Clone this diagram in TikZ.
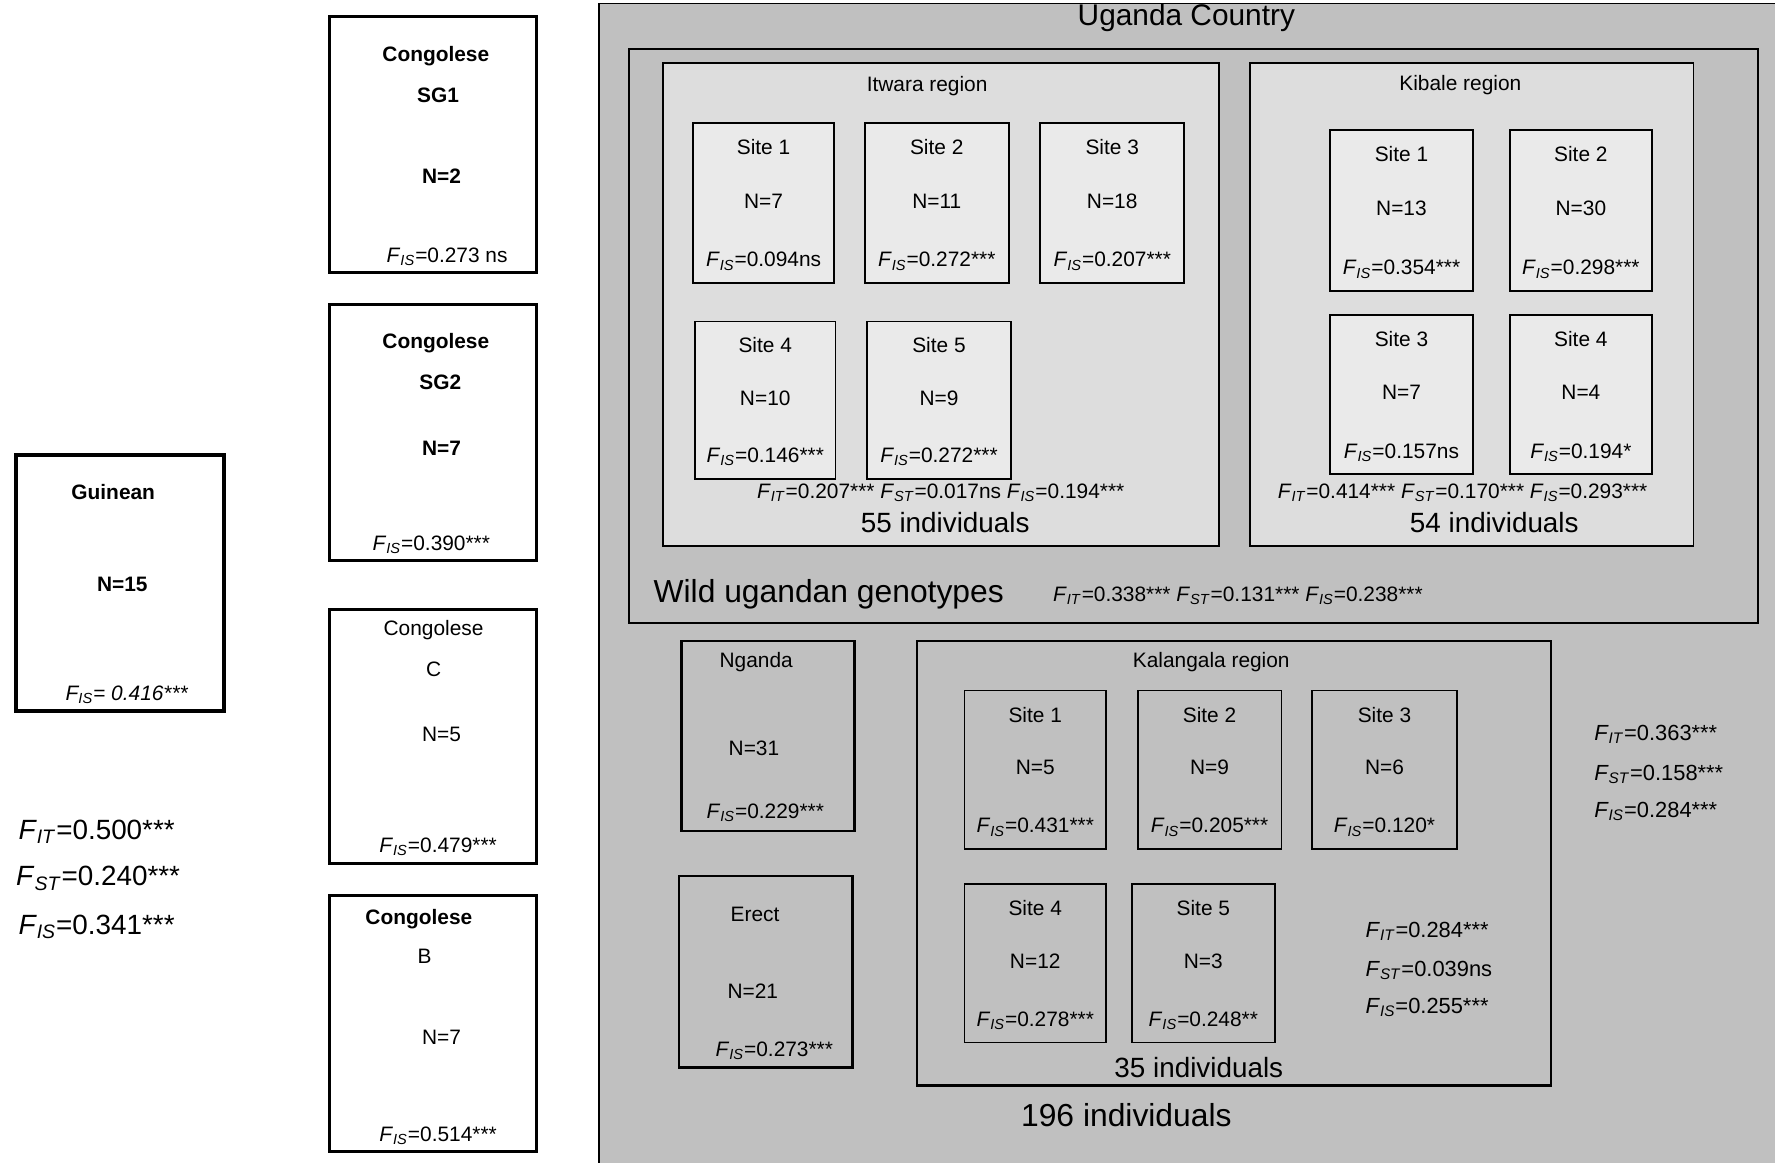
\documentclass[tikz,border=0pt]{standalone}
\usepackage{fontspec}
\setmainfont{Liberation Sans}
\usetikzlibrary{positioning,calc,fit}
\definecolor{ugray}{RGB}{192,192,192}
\definecolor{rgray}{RGB}{221,221,221}
\definecolor{sgray}{RGB}{234,234,234}
\newcommand{\fstat}[1]{\textit{F}\textsubscript{\textit{#1}}}

\begin{document}
\begin{tikzpicture}[x=0.02cm,y=-0.02cm,
  box/.style={draw,inner sep=0pt,line width=0.7pt},
  grp/.style={box,fill=ugray},
  reg/.style={box,line width=0.9pt,fill=rgray},
  site/.style={box,line width=0.9pt},
  pop/.style={box,line width=1.5pt,fill=white},
  txt/.style={inner sep=0pt,font=\fontsize{10.5}{12}\selectfont},
  ptxt/.style={inner sep=0pt,font=\bfseries\fontsize{10.5}{12}\selectfont},
  big/.style={inner sep=0pt,font=\fontsize{15}{18}\selectfont},
  lstat/.style={inner sep=0pt,anchor=west,font=\fontsize{14}{16}\selectfont},
  rstat/.style={inner sep=0pt,anchor=west,font=\fontsize{11}{13}\selectfont}]
\useasboundingbox[fill=white] (0,0) rectangle (1568,1027);

% left: Guinean and Congolese groups
\node[pop,line width=2pt,fit={(14,402) (198,628)}] (gui) {};
\node[ptxt] (gui-a) at (100,435) {Guinean};
\node[ptxt] (gui-n) at (108,516) {N=15};
\node[txt,font=\itshape\fontsize{10.5}{12}\selectfont] (gui-f) at (112,614) {\fstat{IS}= 0.416***};
\node[lstat] (all-it) at (16,735) {\fstat{IT}=0.500***};
\node[lstat] (all-st) at (14,776) {\fstat{ST}=0.240***};
\node[lstat] (all-is) at (16,819) {\fstat{IS}=0.341***};

\node[pop,fit={(291,15) (474,241)}] (sg1) {};
\node[ptxt] (sg1-a) at (385,50) {Congolese};
\node[ptxt] (sg1-b) at (387,84) {SG1};
\node[ptxt] (sg1-n) at (390,156) {N=2};
\node[txt] (sg1-f) at (395,227) {\fstat{IS}=0.273 ns};
\node[pop,fit={(291,269) (474,495)}] (sg2) {};
\node[ptxt] (sg2-a) at (385,303) {Congolese};
\node[ptxt] (sg2-b) at (389,338) {SG2};
\node[ptxt] (sg2-n) at (390,396) {N=7};
\node[txt] (sg2-f) at (381,481) {\fstat{IS}=0.390***};
\node[pop,fit={(291,538) (474,763)}] (cgc) {};
\node[txt] (cgc-a) at (383,557) {Congolese};
\node[txt] (cgc-b) at (383,591) {C};
\node[txt] (cgc-n) at (390,649) {N=5};
\node[txt] (cgc-f) at (387,748) {\fstat{IS}=0.479***};
\node[pop,fit={(291,791) (474,1017)}] (cgb) {};
\node[ptxt] (cgb-a) at (370,812) {Congolese};
\node[txt] (cgb-b) at (375,845) {B};
\node[txt] (cgb-n) at (390,916) {N=7};
\node[txt] (cgb-f) at (387,1003) {\fstat{IS}=0.514***};

% Uganda
\node[grp,fit={(529,3) (1580,1040)}] (uga) {};
\node[big] (uga-t) at (1048,16) {Uganda Country};
\node[grp,line width=1pt,fit={(556,43) (1553,550)}] (wild) {};
\node[reg,fit={(586,56) (1077,482)}] (itw) {};
\node[txt] (itw-t) at (819,76) {Itwara region};
\node[reg,fit={(1104,56) (1496,482)}] (kib) {};
\node[txt] (kib-t) at (1290,75) {Kibale region};

\foreach \nm/\xa/\ya/\xb/\yb/\fc/\s/\nv/\fv in {
  it1/612/109/737/250/sgray/1/7/0.094ns, it2/764/109/891/250/sgray/2/11/0.272***,
  it3/919/109/1046/250/sgray/3/18/0.207***, it4/614/284/738/423/sgray/4/10/0.146***,
  it5/766/284/893/423/sgray/5/9/0.272***,
  kb1/1175/115/1301/257/sgray/1/13/0.354***, kb2/1334/115/1459/257/sgray/2/30/0.298***,
  kb3/1175/278/1301/419/sgray/3/7/0.157ns, kb4/1334/278/1459/419/sgray/4/4/0.194*,
  kl1/852/610/977/750/ugray/1/5/0.431***, kl2/1005/610/1132/750/ugray/2/9/0.205***,
  kl3/1159/610/1287/750/ugray/3/6/0.120*, kl4/852/781/977/921/ugray/4/12/0.278***,
  kl5/1000/781/1126/921/ugray/5/3/0.248**}
{
  \node[site,fill=\fc,fit={(\xa,\ya) (\xb,\yb)}] (\nm) {};
  \node[txt] (\nm-s) at ($(\nm.north)+(0,22)$) {Site \s};
  \node[txt] (\nm-n) at ($(\nm.center)+(0,-2)$) {N=\nv};
  \node[txt] (\nm-f) at ($(\nm.south)+(0,-20)$) {\fstat{IS}=\fv};
}

\node[txt] (itw-st) at (831,435) {\fstat{IT}=0.207*** \fstat{ST}=0.017ns \fstat{IS}=0.194***};
\node[big,font=\fontsize{14}{16}\selectfont] (itw-i) at (835,462) {55 individuals};
\node[txt] (kib-st) at (1292,435) {\fstat{IT}=0.414*** \fstat{ST}=0.170*** \fstat{IS}=0.293***};
\node[big,font=\fontsize{14}{16}\selectfont] (kib-i) at (1320,462) {54 individuals};
\node[big,anchor=west,font=\fontsize{16}{18}\selectfont] (wild-t) at (577,525) {Wild ugandan genotypes};
\node[txt,anchor=west] (wild-st) at (930,526) {\fstat{IT}=0.338*** \fstat{ST}=0.131*** \fstat{IS}=0.238***};

% cultivated and Kalangala
\node[grp,line width=1.2pt,fit={(602,566) (755,734)}] (ngd) {};
\node[txt] (ngd-a) at (668,585) {Nganda};
\node[txt] (ngd-n) at (666,661) {N=31};
\node[txt] (ngd-f) at (676,718) {\fstat{IS}=0.229***};
\node[grp,line width=1.2pt,fit={(600,774) (753,943)}] (erc) {};
\node[txt] (erc-a) at (667,808) {Erect};
\node[txt] (erc-n) at (665,876) {N=21};
\node[txt] (erc-f) at (684,928) {\fstat{IS}=0.273***};
\node[grp,line width=1.2pt,fit={(810,566) (1370,959)},fill=none] (kal) {};
\node[txt] (kal-t) at (1070,585) {Kalangala region};
\node[rstat] (kal-it) at (1206,823) {\fstat{IT}=0.284***};
\node[rstat] (kal-st) at (1206,857) {\fstat{ST}=0.039ns};
\node[rstat] (kal-is) at (1206,890) {\fstat{IS}=0.255***};
\node[big,font=\fontsize{14}{16}\selectfont] (kal-i) at (1059,943) {35 individuals};
\node[big,font=\fontsize{16}{18}\selectfont] (uga-i) at (995,985) {196 individuals};
\node[rstat] (uga-it) at (1408,649) {\fstat{IT}=0.363***};
\node[rstat] (uga-st) at (1408,684) {\fstat{ST}=0.158***};
\node[rstat] (uga-is) at (1408,717) {\fstat{IS}=0.284***};
\end{tikzpicture}
\end{document}
